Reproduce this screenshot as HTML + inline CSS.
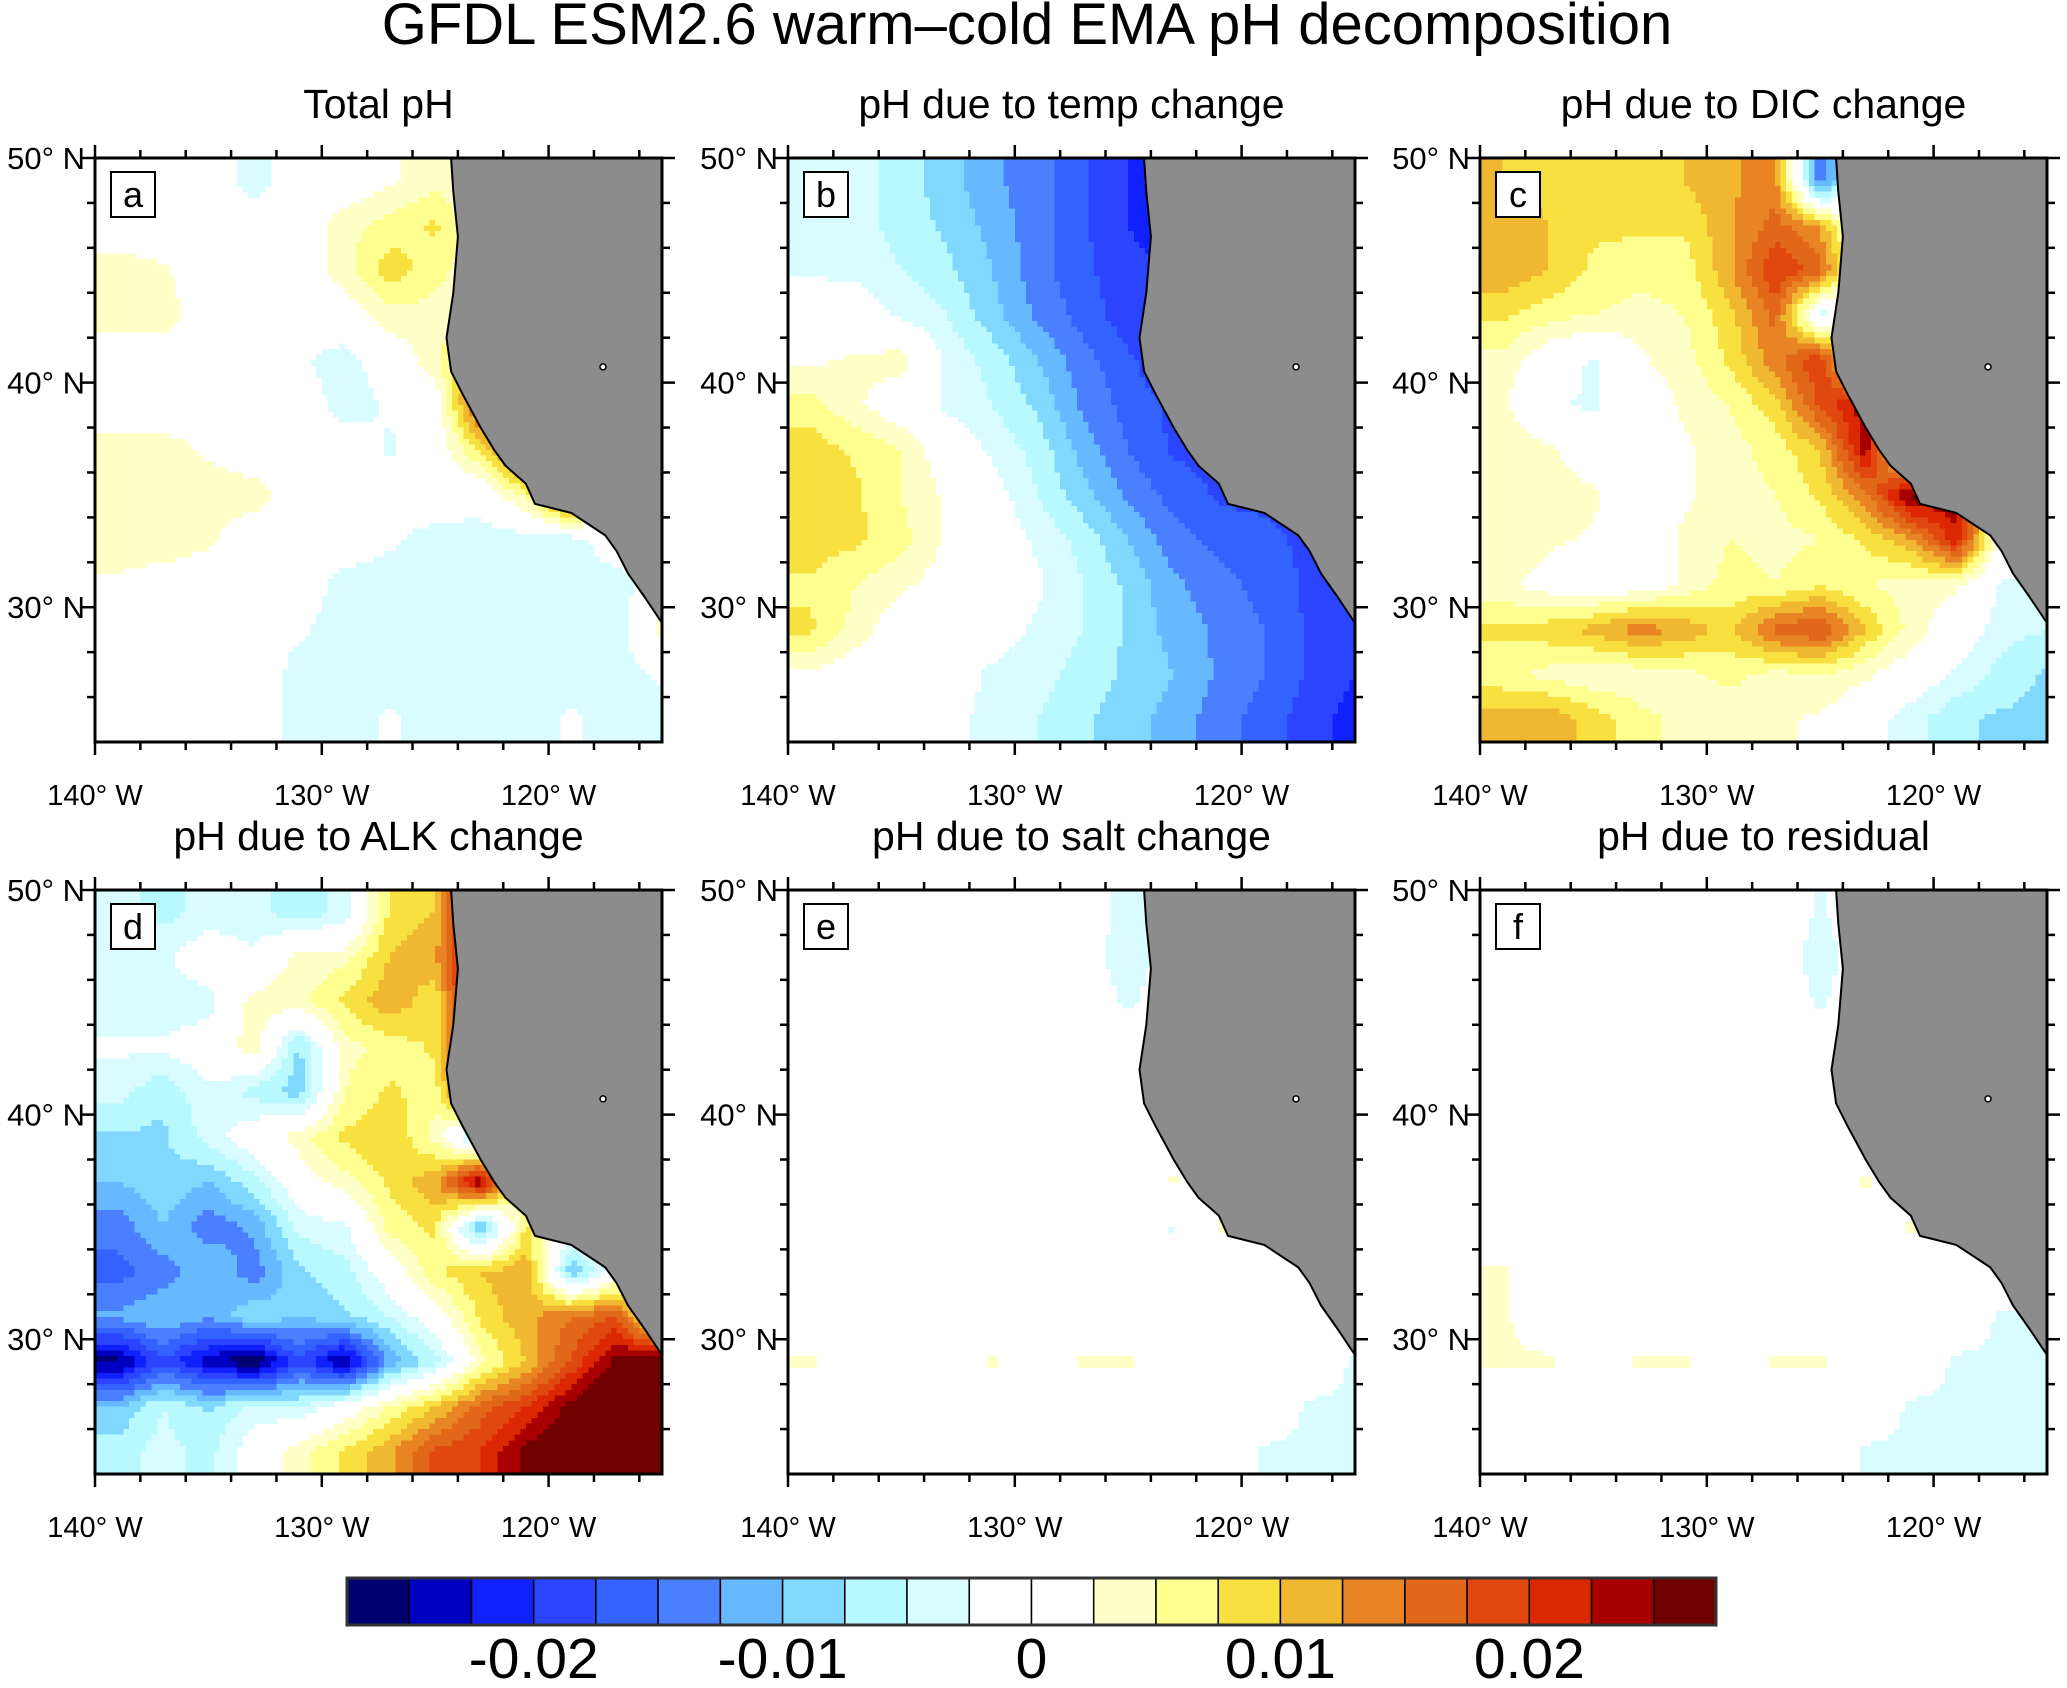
<!DOCTYPE html>
<html><head><meta charset="utf-8">
<style>
html,body{margin:0;padding:0;background:#fff;}
body{width:2067px;height:1683px;overflow:hidden;font-family:"Liberation Sans",Arial,sans-serif;}
</style></head>
<body>
<svg id="fig" width="2067" height="1683" viewBox="0 0 2067 1683" xmlns="http://www.w3.org/2000/svg" font-family="Liberation Sans, Arial, sans-serif">
<text x="1027" y="44" font-size="58" text-anchor="middle">GFDL ESM2.6 warm–cold EMA pH decomposition</text>
<g id="panels"></g>
<g id="cbar"></g>
</svg>
<script>
// grid: rows lat centers 49..25 (step -2), cols lon centers -139..-115 (step 2); values in 0.001 pH
const lats=[49,47,45,43,41,39,37,35,33,31,29,27,25];
const lons=[-139,-137,-135,-133,-131,-129,-127,-125,-123,-121,-119,-117,-115];
const levelColors=["#000070","#0000c0","#1020ff","#2a44ff","#3462ff","#4a80ff","#66b8ff","#80d8ff","#b8f8ff","#d8fcff","#ffffff","#ffffff","#ffffc8","#ffff90","#f8e040","#f0b830","#e88424","#e06818","#e04810","#dc2800","#a80000","#700000"];
const cbarLabels=["-0.02","-0.01","0","0.01","0.02"];
const cbarLabelVals=[-20,-10,0,10,20];
const titles=["Total pH","pH due to temp change","pH due to DIC change","pH due to ALK change","pH due to salt change","pH due to residual"];
const letters=["a","b","c","d","e","f"];
const fieldA=[
[0,0,0,-4,0,0,2,4,2,0,0,0,0],
[0,0,0,0,0,4,6,8,3,0,0,0,0],
[4,3,0,0,0,4,9,6,3,0,0,0,0],
[4,4,0,0,0,0,4,4,2,0,0,0,0],
[0,0,0,0,-2,-4,0,4,14,0,0,0,0],
[0,0,0,0,0,-4,-2,0,18,0,0,0,0],
[4,4,2,0,0,0,-3,0,8,20,0,0,0],
[4,5,4,4,0,0,0,0,-1,6,20,0,0],
[4,4,3,0,0,0,-2,-4,-4,-4,-4,0,0],
[2,1,0,0,0,-4,-4,-4,-4,-4,-4,-4,0],
[0,0,0,0,-2,-4,-4,-4,-4,-4,-4,-4,4],
[0,0,0,0,-4,-4,-4,-4,-5,-4,-4,-4,-2],
[0,0,0,0,-4,-4,-2,-4,-5,-4,-2,-4,-4]];
const fieldB=[
[-4,-4,-6,-9,-12,-14,-17,-20,-22,-22,-22,-22,-22],
[-3,-4,-6,-8,-11,-14,-17,-20,-22,-22,-22,-22,-22],
[-3,-3,-5,-7,-10,-14,-17,-19,-20,-20,-20,-20,-20],
[0,-1,-3,-5,-9,-13,-16,-19,-20,-20,-20,-20,-20],
[2,3,4,-3,-6,-10,-14,-17,-20,-20,-20,-20,-20],
[6,3,0,-3,-5,-8,-13,-16,-18,-18,-18,-18,-18],
[9,7,5,0,-3,-6,-11,-15,-18,-18,-18,-18,-18],
[10,8,5,2,-1,-5,-9,-13,-16,-18,-18,-18,-18],
[9,8,6,2,0,-3,-6,-10,-14,-16,-17,-18,-18],
[7,5,3,1,0,-2,-5,-8,-12,-14,-16,-18,-18],
[8,4,0,0,-1,-3,-5,-8,-11,-13,-15,-18,-20],
[2,0,0,-1,-3,-4,-6,-8,-10,-13,-15,-18,-20],
[2,0,0,-2,-3,-5,-7,-9,-11,-14,-16,-19,-21]];
const fieldC=[
[10,9,8,8,10,12,14,-15,0,0,0,0,0],
[12,10,8,8,8,12,16,12,0,0,0,0,0],
[12,10,7,6,6,12,20,16,0,0,0,0,0],
[8,6,5,4,5,9,16,-4,0,0,0,0,0],
[4,0,-3,2,4,8,14,20,0,0,0,0,0],
[3,-2,-3,0,3,5,9,18,24,0,0,0,0],
[5,3,0,0,2,4,6,10,24,0,0,0,0],
[3,4,3,0,2,4,5,8,14,26,24,0,0],
[5,3,2,0,3,5,4,5,8,12,22,0,0],
[3,1,0,0,3,6,5,7,5,4,3,-3,-3],
[8,9,11,14,12,9,16,18,10,4,0,-4,-5],
[6,4,3,3,4,6,4,5,3,0,-3,-6,-8],
[11,12,9,6,4,3,3,2,-1,-4,-7,-8,-8]];
const fieldD=[
[-4,-6,-4,-4,-7,-4,8,10,28,0,0,0,0],
[-4,-3,0,-2,4,4,10,12,28,0,0,0,0],
[-4,-4,-4,4,4,8,12,8,28,0,0,0,0],
[-2,-2,0,4,-8,4,6,8,26,0,0,0,0],
[-4,-7,-3,-6,-9,5,8,6,24,0,0,0,0],
[-8,-8,-4,0,4,8,10,4,-8,0,0,0,0],
[-10,-8,-10,-6,0,4,8,12,26,0,0,0,0],
[-14,-10,-14,-12,-4,-3,6,8,-12,8,0,0,0],
[-16,-14,-10,-14,-8,-6,0,7,10,12,-10,0,0],
[-12,-10,-12,-8,-10,-8,-5,0,8,12,15,18,0],
[-26,-18,-24,-28,-18,-26,-12,-6,4,10,18,26,28],
[-10,-5,-8,-4,-5,0,5,10,16,20,26,30,30],
[-6,-4,-6,0,4,8,12,18,20,26,30,30,30]];
const fieldE=[
[0,0,0,0,0,0,0,-4,0,0,0,0,0],
[0,0,0,0,0,0,0,-5,0,0,0,0,0],
[0,0,0,0,0,0,0,-3,0,0,0,0,0],
[0,0,0,0,0,0,0,0,0,0,0,0,0],
[0,0,0,0,0,0,0,0,0,0,0,0,0],
[0,0,0,0,0,0,0,0,0,0,0,0,0],
[0,0,0,0,0,0,0,0,3,0,0,0,0],
[0,0,0,0,0,0,0,0,-3,3,0,0,0],
[0,0,0,0,0,0,0,0,0,0,0,0,0],
[0,0,0,0,0,0,0,0,0,0,0,0,0],
[3,0,0,0,3,0,3,3,0,0,0,0,-3],
[0,0,0,0,0,0,0,0,0,0,0,-3,-3],
[0,0,0,0,0,0,0,0,0,0,-3,-3,-3]];
const fieldF=[
[0,0,0,0,0,0,0,-3,0,0,0,0,0],
[0,0,0,0,0,0,0,-4,0,0,0,0,0],
[0,0,0,0,0,0,0,-3,0,0,0,0,0],
[0,0,0,0,0,0,0,0,0,0,0,0,0],
[0,0,0,0,0,0,0,0,0,0,0,0,0],
[0,0,0,0,0,0,0,0,0,0,0,0,0],
[0,0,0,0,0,0,0,0,3,0,0,0,0],
[0,0,0,0,0,0,0,0,0,3,0,0,0],
[3,0,0,0,0,0,0,0,0,0,0,0,0],
[3,0,0,0,0,0,0,0,0,0,0,-3,-3],
[3,3,0,3,3,0,3,3,0,0,-3,-3,-3],
[0,0,0,0,0,0,0,0,0,-3,-3,-3,-4],
[0,0,0,0,0,0,0,0,-3,-3,-3,-3,-4]];
const fields=[fieldA,fieldB,fieldC,fieldD,fieldE,fieldF];
const coastLon=[-124.3,-124.2,-124.0,-124.2,-124.5,-124.3,-123.8,-123.0,-122.4,-121.9,-121.0,-120.6,-119.0,-117.5,-117.0,-116.5,-115.8,-115.0];
const coastLat=[50,48.5,46.5,44,42,40.5,39.5,38,37,36.3,35.5,34.6,34.2,33.2,32.5,31.5,30.5,29.3];

const NS="http://www.w3.org/2000/svg";
const PL=[95,788,1480], PT=[158,890], PW=567, PH=584;
const LON0=-140,LON1=-115,LAT0=24,LAT1=50;
function mk(tag,attrs,parent){const e=document.createElementNS(NS,tag);for(const k in attrs)e.setAttribute(k,attrs[k]);parent.appendChild(e);return e;}
function colorFor(v){let i=Math.floor(v/2.5)+11;if(i<0)i=0;if(i>21)i=21;return levelColors[i];}
function sample(f,lon,lat){
  let fx=(lon-lons[0])/2, fy=(lats[0]-lat)/2;
  fx=Math.max(0,Math.min(lons.length-1,fx)); fy=Math.max(0,Math.min(lats.length-1,fy));
  const x0=Math.floor(fx),y0=Math.floor(fy),x1=Math.min(x0+1,lons.length-1),y1=Math.min(y0+1,lats.length-1);
  const tx=fx-x0,ty=fy-y0;
  return f[y0][x0]*(1-tx)*(1-ty)+f[y0][x1]*tx*(1-ty)+f[y1][x0]*(1-tx)*ty+f[y1][x1]*tx*ty;
}
const panelsG=document.getElementById('panels');
for(let p=0;p<6;p++){
  const L=PL[p%3],T=PT[Math.floor(p/3)];
  const sx=lon=>L+(lon-LON0)/(LON1-LON0)*PW;
  const sy=lat=>T+(LAT1-lat)/(LAT1-LAT0)*PH;
  const g=mk('g',{},panelsG);
  
  
  const t=mk('text',{x:L+PW/2,y:T-40,'font-size':41,'text-anchor':'middle'},g);
  t.textContent=titles[p];
  
  
  const cells=mk('g',{'shape-rendering':'crispEdges'},g);
  
  
  const st=0.25;
  for(let lat=LAT1;lat>LAT0;lat-=st){
    for(let lon=LON0;lon<LON1;lon+=st){
      const v=sample(fields[p],lon+st/2,lat-st/2);
      const c=colorFor(v);
      if(c==="#ffffff")continue;
      mk('rect',{x:sx(lon).toFixed(1),y:sy(lat).toFixed(1),width:(sx(lon+st)-sx(lon)+0.6).toFixed(1),height:(sy(lat-st)-sy(lat)+0.6).toFixed(1),fill:c},cells);
    }
  }
  let d='M'+sx(coastLon[0])+','+sy(coastLat[0]);
  for(let i=1;i<coastLon.length;i++)d+=' L'+sx(coastLon[i]).toFixed(1)+','+sy(coastLat[i]).toFixed(1);
  d+=' L'+sx(-115)+','+sy(coastLat[coastLat.length-1])+' L'+sx(-115)+','+sy(50)+' Z';
  const land=mk('path',{d:d,fill:'#8c8c8c',stroke:'#000','stroke-width':2},g);
  
  
  mk('circle',{cx:sx(-117.6),cy:sy(40.7),r:3,fill:'#fff',stroke:'#000','stroke-width':1.5},g);
  const fr=mk('rect',{x:L,y:T,width:PW,height:PH,fill:'none',stroke:'#000','stroke-width':3},g);
  
  
  for(let lon=-140;lon<=-116;lon+=2){
    const maj=(lon%10===0), len=maj?13:8, x=sx(lon);
    mk('line',{x1:x,y1:T,x2:x,y2:T-len,stroke:'#000','stroke-width':2.5},g);
    mk('line',{x1:x,y1:T+PH,x2:x,y2:T+PH+len,stroke:'#000','stroke-width':2.5},g);
    if(maj){const lb=mk('text',{x:x,y:T+PH+63,'font-size':29,'text-anchor':'middle'},g);lb.textContent=(-lon)+'° W';
      
      }
  }
  for(let lat=26;lat<=50;lat+=2){
    const maj=(lat%10===0), len=maj?13:8, y=sy(lat);
    mk('line',{x1:L,y1:y,x2:L-len,y2:y,stroke:'#000','stroke-width':2.5},g);
    mk('line',{x1:L+PW,y1:y,x2:L+PW+len,y2:y,stroke:'#000','stroke-width':2.5},g);
    if(maj){const lb=mk('text',{x:L-10,y:y+11,'font-size':31,'text-anchor':'end'},g);lb.textContent=lat+'° N';
      
      }
  }
  const lbx=mk('rect',{x:L+16,y:T+14,width:44,height:45,fill:'#fff',stroke:'#000','stroke-width':2},g);
  
  
  const lt=mk('text',{x:L+38,y:T+49,'font-size':36,'text-anchor':'middle'},g);
  lt.textContent=letters[p];
  
  
}
const cb=document.getElementById('cbar');
const CX=347,CW=1369,CY=1578,CH=47,bw=CW/levelColors.length;
for(let i=0;i<levelColors.length;i++){
  const r=mk('rect',{x:(CX+i*bw).toFixed(1),y:CY,width:bw.toFixed(1),height:CH,fill:levelColors[i],stroke:'#000','stroke-width':1.5},cb);
  
  
}
mk('rect',{x:CX,y:CY,width:CW,height:CH,fill:'none',stroke:'#333','stroke-width':3},cb);
for(let i=0;i<cbarLabels.length;i++){
  const x=CX+(cbarLabelVals[i]/2.5+11)*bw;
  const t=mk('text',{x:x,y:1678,'font-size':57,'text-anchor':'middle'},cb);
  t.textContent=cbarLabels[i];
  
  
}
</script>
</body></html>
